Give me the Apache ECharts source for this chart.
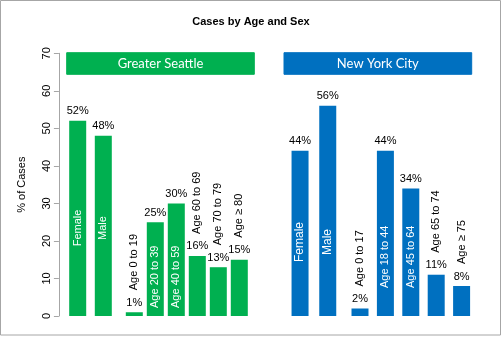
<!DOCTYPE html>
<html>
<head>
<meta charset="utf-8">
<script src="https://cdn.jsdelivr.net/npm/echarts@6/dist/echarts.min.js"></script>
<style>html,body{margin:0;padding:0;background:#fff}#c{width:502px;height:359px}</style>
</head>
<body>
<div id="c"></div>
<script>
const title = 'Cases by Age and Sex';
const yAxisName = '% of Cases';
const yTicks = [0, 10, 20, 30, 40, 50, 60, 70];
const groupNames = ['Greater Seattle', 'New York City'];
const seattleSexCats = ['Female', 'Male'];
const seattleSexVals = [52, 48];
const seattleAgeCats = ['Age 0 to 19', 'Age 20 to 39', 'Age 40 to 59', 'Age 60 to 69', 'Age 70 to 79', 'Age \u2265 80'];
const seattleAgeVals = [1, 25, 30, 16, 13, 15];
const nycSexCats = ['Female', 'Male'];
const nycSexVals = [44, 56];
const nycAgeCats = ['Age 0 to 17', 'Age 18 to 44', 'Age 45 to 64', 'Age 65 to 74', 'Age \u2265 75'];
const nycAgeVals = [2, 44, 34, 11, 8];

const FONT = 'Liberation Sans, Arial, sans-serif';
const GREEN = '#00B050';
const BLUE = '#0070C0';

const grids = [
  {left: 64.9, width: 51.2},
  {left: 123.8, width: 126},
  {left: 286.2, width: 55.4},
  {left: 347.3, width: 127}
].map(g => Object.assign({top: 53.3, bottom: 43, containLabel: false}, g));

const groups = [
  {cats: seattleSexCats, vals: seattleSexVals, color: GREEN, kind: 'sex', sexDist: 88, sexSize: 11},
  {cats: seattleAgeCats, vals: seattleAgeVals, color: GREEN, kind: 'age', insideDist: 8},
  {cats: nycSexCats, vals: nycSexVals, color: BLUE, kind: 'sex', sexDist: 74, sexSize: 12},
  {cats: nycAgeCats, vals: nycAgeVals, color: BLUE, kind: 'age', insideDist: 28}
];

const xAxes = groups.map((g, i) => ({
  type: 'category', gridIndex: i, data: g.cats, show: false
}));
const yAxes = groups.map((g, i) => ({
  type: 'value', gridIndex: i, min: yTicks[0], max: yTicks[yTicks.length - 1], interval: yTicks[1] - yTicks[0],
  show: i === 0,
  offset: 6,
  name: i === 0 ? yAxisName : '',
  nameLocation: 'middle', nameGap: 31,
  nameTextStyle: {fontFamily: FONT, fontSize: 11, color: '#000'},
  axisLine: {show: true, lineStyle: {color: '#a6a6a6', width: 1}},
  axisTick: {show: true, length: 5, lineStyle: {color: '#a6a6a6'}},
  axisLabel: {rotate: 90, fontFamily: FONT, fontSize: 11, color: '#000', margin: 6},
  splitLine: {show: false}
}));

const series = [];
groups.forEach((g, i) => {
  series.push({
    type: 'bar', xAxisIndex: i, yAxisIndex: i, data: g.vals, barWidth: 17,
    itemStyle: {color: g.color},
    label: {show: true, position: 'top', distance: 4, formatter: '{c}%', fontFamily: FONT, fontSize: 11, color: '#000'}
  });
  series.push({
    type: 'bar', xAxisIndex: i, yAxisIndex: i, barWidth: 17, barGap: '-100%', silent: true, z: 5,
    itemStyle: {color: 'rgba(0,0,0,0)'},
    data: g.vals.map((v, k) => {
      let label;
      if (g.kind === 'sex') {
        label = {show: true, position: 'insideBottom', distance: g.sexDist, rotate: 90, align: 'center', verticalAlign: 'middle',
          color: '#fff', fontSize: g.sexSize, fontFamily: FONT, formatter: g.cats[k]};
      } else if (v >= 20) {
        label = {show: true, position: 'insideBottom', distance: g.insideDist, rotate: 90, align: 'left', verticalAlign: 'middle',
          color: '#fff', fontSize: 11, fontFamily: FONT, formatter: g.cats[k]};
      } else {
        label = {show: true, position: 'top', distance: 22, rotate: 90, align: 'left', verticalAlign: 'middle',
          color: '#000', fontSize: 11, fontFamily: FONT, formatter: g.cats[k]};
      }
      return {value: v, label};
    })
  });
});

function banner(x, w, color, text) {
  return {
    type: 'group', children: [
      {type: 'rect', shape: {x: x, y: 52.7, width: w, height: 21.6}, style: {fill: color, stroke: color}},
      {type: 'text', x: x + w / 2, y: 63.5, style: {text: text, fill: '#fff', font: '13px Lato, sans-serif', align: 'center', verticalAlign: 'middle'}}
    ]
  };
}

const chart = echarts.init(document.getElementById('c'), null, {renderer: 'canvas'});
chart.setOption({
  animation: false,
  backgroundColor: '#fff',
  title: {text: title, left: 'center', top: 11, textStyle: {fontFamily: FONT, fontSize: 11, fontWeight: 'bold', color: '#000'}},
  grid: grids, xAxis: xAxes, yAxis: yAxes, series: series,
  graphic: [
    {type: 'rect', shape: {x: 0.5, y: 0.5, width: 500, height: 334.5}, style: {fill: 'none', stroke: '#a6a6a6', lineWidth: 1}, z: 100},
    banner(66.7, 187.6, GREEN, groupNames[0]),
    banner(284, 187.7, BLUE, groupNames[1])
  ]
});
</script>
</body>
</html>
